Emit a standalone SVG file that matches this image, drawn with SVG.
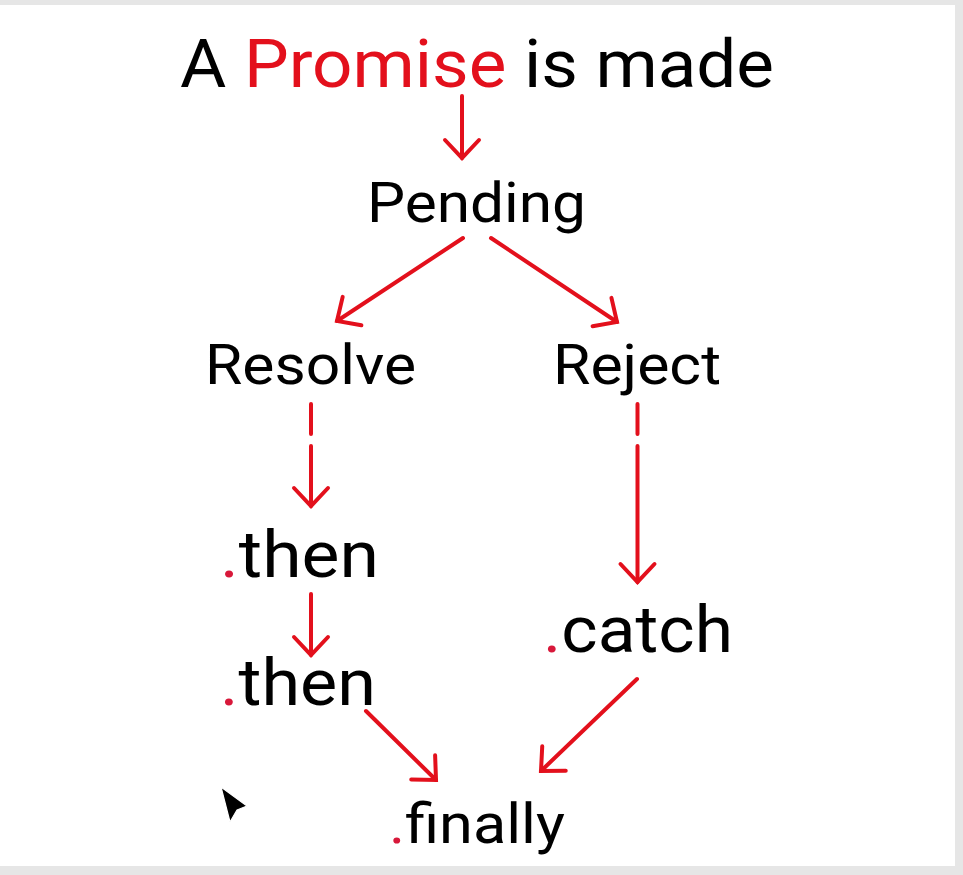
<svg xmlns="http://www.w3.org/2000/svg" width="963" height="875" viewBox="0 0 963 875">
  <style>
    .t { font-family: Roboto, "Liberation Sans", sans-serif; fill: #000; }
    .red { fill: #e3101c; }
    .dot { fill: #d8183a; }
    .arr { fill: none; stroke: #e3101c; stroke-width: 4; stroke-linecap: round; marker-end: url(#chev); }
  </style>
  <defs>
    <marker id="chev" markerUnits="userSpaceOnUse" viewBox="-24 -24 48 48" markerWidth="48" markerHeight="48" refX="0" refY="0" orient="auto" overflow="visible">
      <path d="M -18 -17 L 0 0 L -18 17" fill="none" stroke="#e3101c" stroke-width="4" stroke-linecap="round" stroke-linejoin="miter"/>
    </marker>
  </defs>

  <!-- frame -->
  <rect x="0" y="0" width="963" height="875" fill="#ffffff"/>
  <rect x="0" y="0" width="963" height="5" fill="#e6e6e6"/>
  <rect x="955" y="0" width="8" height="875" fill="#e6e6e6"/>
  <rect x="0" y="866" width="963" height="9" fill="#e6e6e6"/>

  <g id="connectors">
    <path class="arr" d="M462 96 V158"/>
    <path class="arr" d="M463 238 L337 321"/>
    <path class="arr" d="M491 238 L617 322"/>
    <path class="arr" d="M311 404 V434 M311 446 V506"/>
    <path class="arr" d="M637.5 404 V434 M637.5 446 V582"/>
    <path class="arr" d="M311 594 V655"/>
    <path class="arr" d="M366 711 L436 780"/>
    <path class="arr" d="M637 679 L541 771"/>
  </g>

  <g id="node-promise">
    <text class="t" x="180" y="87" font-size="67" textLength="594" lengthAdjust="spacingAndGlyphs">A <tspan class="red">Promise</tspan> is made</text>
  </g>
  <g id="node-pending">
    <text class="t" x="367" y="222" font-size="56" textLength="219" lengthAdjust="spacingAndGlyphs">Pending</text>
  </g>
  <g id="node-resolve">
    <text class="t" x="205" y="384" font-size="55" textLength="211" lengthAdjust="spacingAndGlyphs">Resolve</text>
  </g>
  <g id="node-reject">
    <text class="t" x="553" y="384" font-size="55" textLength="168" lengthAdjust="spacingAndGlyphs">Reject</text>
  </g>
  <g id="node-then1">
    <text class="t" x="220" y="577" font-size="64" textLength="159" lengthAdjust="spacingAndGlyphs"><tspan class="dot">.</tspan>then</text>
  </g>
  <g id="node-then2">
    <text class="t" x="220" y="705" font-size="64" textLength="156" lengthAdjust="spacingAndGlyphs"><tspan class="dot">.</tspan>then</text>
  </g>
  <g id="node-catch">
    <text class="t" x="543" y="652" font-size="65" textLength="190" lengthAdjust="spacingAndGlyphs"><tspan class="dot">.</tspan>catch</text>
  </g>
  <g id="node-finally">
    <text class="t" x="389" y="843" font-size="55" textLength="176" lengthAdjust="spacingAndGlyphs"><tspan class="dot">.</tspan>finally</text>
  </g>

  <!-- mouse pointer -->
  <polygon points="221,787 247,806 237,810 230,822" fill="#000" stroke="#fff" stroke-width="1.2" stroke-linejoin="round"/>
</svg>
